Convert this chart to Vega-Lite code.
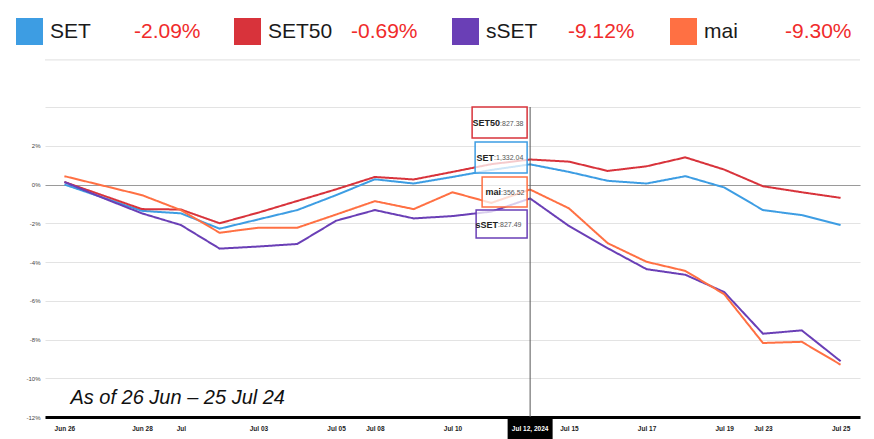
{
  "$schema": "https://vega.github.io/schema/vega-lite/v6.json",
  "width": 815,
  "height": 310,
  "autosize": {"type": "none"},
  "padding": {"left": 45, "top": 107, "right": 14, "bottom": 22},
  "background": "white",
  "config": {"view": {"stroke": null}, "font": "Liberation Sans"},
  "datasets": {
    "changes": [
      {"series": "SET", "change": "-2.09%"},
      {"series": "SET50", "change": "-0.69%"},
      {"series": "sSET", "change": "-9.12%"},
      {"series": "mai", "change": "-9.30%"}
    ],
    "series": [
      {"date": "2024-06-26", "series": "SET", "pct": 0.00},
      {"date": "2024-06-27", "series": "SET", "pct": -0.68},
      {"date": "2024-06-28", "series": "SET", "pct": -1.36},
      {"date": "2024-07-01", "series": "SET", "pct": -1.49},
      {"date": "2024-07-02", "series": "SET", "pct": -2.28},
      {"date": "2024-07-03", "series": "SET", "pct": -1.80},
      {"date": "2024-07-04", "series": "SET", "pct": -1.32},
      {"date": "2024-07-05", "series": "SET", "pct": -0.55},
      {"date": "2024-07-08", "series": "SET", "pct": 0.27},
      {"date": "2024-07-09", "series": "SET", "pct": 0.05},
      {"date": "2024-07-10", "series": "SET", "pct": 0.39},
      {"date": "2024-07-11", "series": "SET", "pct": 0.75},
      {"date": "2024-07-12", "series": "SET", "pct": 1.04},
      {"date": "2024-07-15", "series": "SET", "pct": 0.65},
      {"date": "2024-07-16", "series": "SET", "pct": 0.19},
      {"date": "2024-07-17", "series": "SET", "pct": 0.05},
      {"date": "2024-07-18", "series": "SET", "pct": 0.43},
      {"date": "2024-07-19", "series": "SET", "pct": -0.15},
      {"date": "2024-07-23", "series": "SET", "pct": -1.32},
      {"date": "2024-07-24", "series": "SET", "pct": -1.58},
      {"date": "2024-07-25", "series": "SET", "pct": -2.09},
      {"date": "2024-06-26", "series": "SET50", "pct": 0.13},
      {"date": "2024-06-27", "series": "SET50", "pct": -0.57},
      {"date": "2024-06-28", "series": "SET50", "pct": -1.27},
      {"date": "2024-07-01", "series": "SET50", "pct": -1.29},
      {"date": "2024-07-02", "series": "SET50", "pct": -2.00},
      {"date": "2024-07-03", "series": "SET50", "pct": -1.45},
      {"date": "2024-07-04", "series": "SET50", "pct": -0.85},
      {"date": "2024-07-05", "series": "SET50", "pct": -0.25},
      {"date": "2024-07-08", "series": "SET50", "pct": 0.39},
      {"date": "2024-07-09", "series": "SET50", "pct": 0.26},
      {"date": "2024-07-10", "series": "SET50", "pct": 0.65},
      {"date": "2024-07-11", "series": "SET50", "pct": 1.05},
      {"date": "2024-07-12", "series": "SET50", "pct": 1.29},
      {"date": "2024-07-15", "series": "SET50", "pct": 1.18},
      {"date": "2024-07-16", "series": "SET50", "pct": 0.70},
      {"date": "2024-07-17", "series": "SET50", "pct": 0.94},
      {"date": "2024-07-18", "series": "SET50", "pct": 1.40},
      {"date": "2024-07-19", "series": "SET50", "pct": 0.77},
      {"date": "2024-07-23", "series": "SET50", "pct": -0.09},
      {"date": "2024-07-24", "series": "SET50", "pct": -0.40},
      {"date": "2024-07-25", "series": "SET50", "pct": -0.69},
      {"date": "2024-06-26", "series": "sSET", "pct": 0.13},
      {"date": "2024-06-27", "series": "sSET", "pct": -0.70},
      {"date": "2024-06-28", "series": "sSET", "pct": -1.49},
      {"date": "2024-07-01", "series": "sSET", "pct": -2.09},
      {"date": "2024-07-02", "series": "sSET", "pct": -3.31},
      {"date": "2024-07-03", "series": "sSET", "pct": -3.20},
      {"date": "2024-07-04", "series": "sSET", "pct": -3.07},
      {"date": "2024-07-05", "series": "sSET", "pct": -1.87},
      {"date": "2024-07-08", "series": "sSET", "pct": -1.32},
      {"date": "2024-07-09", "series": "sSET", "pct": -1.75},
      {"date": "2024-07-10", "series": "sSET", "pct": -1.63},
      {"date": "2024-07-11", "series": "sSET", "pct": -1.40},
      {"date": "2024-07-12", "series": "sSET", "pct": -0.72},
      {"date": "2024-07-15", "series": "sSET", "pct": -2.14},
      {"date": "2024-07-16", "series": "sSET", "pct": -3.29},
      {"date": "2024-07-17", "series": "sSET", "pct": -4.37},
      {"date": "2024-07-18", "series": "sSET", "pct": -4.66},
      {"date": "2024-07-19", "series": "sSET", "pct": -5.55},
      {"date": "2024-07-23", "series": "sSET", "pct": -7.70},
      {"date": "2024-07-24", "series": "sSET", "pct": -7.53},
      {"date": "2024-07-25", "series": "sSET", "pct": -9.12},
      {"date": "2024-06-26", "series": "mai", "pct": 0.43},
      {"date": "2024-06-27", "series": "mai", "pct": -0.06},
      {"date": "2024-06-28", "series": "mai", "pct": -0.55},
      {"date": "2024-07-01", "series": "mai", "pct": -1.32},
      {"date": "2024-07-02", "series": "mai", "pct": -2.49},
      {"date": "2024-07-03", "series": "mai", "pct": -2.23},
      {"date": "2024-07-04", "series": "mai", "pct": -2.23},
      {"date": "2024-07-05", "series": "mai", "pct": -1.55},
      {"date": "2024-07-08", "series": "mai", "pct": -0.86},
      {"date": "2024-07-09", "series": "mai", "pct": -1.27},
      {"date": "2024-07-10", "series": "mai", "pct": -0.40},
      {"date": "2024-07-11", "series": "mai", "pct": -0.95},
      {"date": "2024-07-12", "series": "mai", "pct": -0.26},
      {"date": "2024-07-15", "series": "mai", "pct": -1.23},
      {"date": "2024-07-16", "series": "mai", "pct": -3.03},
      {"date": "2024-07-17", "series": "mai", "pct": -3.99},
      {"date": "2024-07-18", "series": "mai", "pct": -4.46},
      {"date": "2024-07-19", "series": "mai", "pct": -5.66},
      {"date": "2024-07-23", "series": "mai", "pct": -8.18},
      {"date": "2024-07-24", "series": "mai", "pct": -8.12},
      {"date": "2024-07-25", "series": "mai", "pct": -9.30}
    ]
  },
  "layer": [
    {
      "data": {"name": "series"},
      "transform": [
        {"lookup": "series", "from": {"data": {"name": "changes"}, "key": "series", "fields": ["change"]}}
      ],
      "mark": {"type": "line", "strokeWidth": 2},
      "encoding": {
        "x": {
          "field": "date", "type": "ordinal",
          "scale": {"type": "point", "padding": 0.5},
          "axis": {
            "title": null, "labelAngle": 0, "grid": false,
            "labelExpr": "indexof(['2024-06-27','2024-07-02','2024-07-04','2024-07-09','2024-07-11','2024-07-12','2024-07-16','2024-07-18','2024-07-24'], datum.value) >= 0 ? '' : (datum.value == '2024-07-01' ? 'Jul' : utcFormat(toDate(datum.value), '%b %d'))",
            "domainColor": "#000", "domainWidth": 3, "ticks": false, "tickSize": 0,
            "labelPadding": 8, "labelFontSize": 6.5, "labelFont": "Liberation Sans Narrow, Liberation Sans",
            "labelFontWeight": "bold", "labelColor": "#222"
          }
        },
        "y": {
          "field": "pct", "type": "quantitative",
          "scale": {"domain": [-12, 4], "nice": false},
          "axis": {
            "title": null, "values": [-12, -10, -8, -6, -4, -2, 0, 2, 4], "tickCount": 12,
            "labelOverlap": false,
            "labelExpr": "datum.value == 4 ? '' : datum.value + '%'",
            "domain": false, "ticks": false, "tickSize": 0, "labelPadding": 5,
            "labelFontSize": 6, "labelFont": "Liberation Sans Narrow, Liberation Sans", "labelColor": "#444",
            "gridColor": {"condition": {"test": "datum.value === 0", "value": "#9a9a9a"}, "value": "#e3e3e3"},
            "gridWidth": 1.2
          }
        },
        "color": {
          "field": "series", "type": "nominal",
          "scale": {"domain": ["SET", "SET50", "sSET", "mai"], "range": ["#3d9de3", "#d8333b", "#6a3fb6", "#ff7043"]},
          "legend": {
            "orient": "none", "legendX": -29, "legendY": -89, "direction": "horizontal", "title": null,
            "symbolType": "square", "symbolSize": 729, "symbolStrokeWidth": 0,
            "labelFontSize": 21, "labelFont": "Liberation Sans", "labelColor": "#1a1a1a", "labelOffset": 7,
            "gridAlign": "all", "columnPadding": 119, "labelLimit": 300,
            "encode": {"symbols": {"update": {"fill": {"scale": "color", "field": "value"}, "fillOpacity": {"value": 1}}}}
          }
        },
        "strokeDash": {
          "field": "change", "type": "nominal",
          "scale": {"domain": ["-2.09%", "-0.69%", "-9.12%", "-9.30%"], "range": [[1, 0], [1, 0], [1, 0], [1, 0]]},
          "legend": {
            "orient": "none", "legendX": 62, "legendY": -89, "direction": "horizontal", "title": null,
            "symbolSize": 729, "symbolOpacity": 0, "symbolStrokeWidth": 0, "labelOffset": 0,
            "labelFontSize": 21, "labelFont": "Liberation Sans", "labelColor": "#f02b2b",
            "gridAlign": "all", "columnPadding": 123, "labelLimit": 300
          }
        }
      }
    },
    {
      "data": {"values": [{}]},
      "mark": {"type": "rule", "color": "#e6e6e6", "strokeWidth": 1.2},
      "encoding": {"y": {"datum": 6.43}}
    },
    {
      "data": {"values": [{}]},
      "mark": {"type": "rule", "color": "#555", "strokeWidth": 1},
      "encoding": {"x": {"datum": "2024-07-12", "type": "ordinal"}}
    },
    {
      "data": {"values": [{"name": "SET50", "val": ":827.38"}]},
      "layer": [
        {"mark": {"type": "bar", "width": 55, "xOffset": -30.5, "fill": "white", "fillOpacity": 0.75, "stroke": "#d8333b", "strokeWidth": 1.5},
         "encoding": {"x": {"datum": "2024-07-12", "type": "ordinal"}, "y": {"datum": 4.0}, "y2": {"datum": 2.4}}},
        {"mark": {"type": "text", "align": "right", "dx": -30, "fontSize": 9, "fontWeight": "bold", "font": "Liberation Sans Narrow, Liberation Sans", "color": "#222"},
         "encoding": {"x": {"datum": "2024-07-12", "type": "ordinal"}, "y": {"datum": 3.17}, "text": {"field": "name"}}},
        {"mark": {"type": "text", "align": "left", "dx": -30, "dy": 0.5, "fontSize": 7, "color": "#555"},
         "encoding": {"x": {"datum": "2024-07-12", "type": "ordinal"}, "y": {"datum": 3.17}, "text": {"field": "val"}}}
      ]
    },
    {
      "data": {"values": [{"name": "SET", "val": ":1,332.04"}]},
      "layer": [
        {"mark": {"type": "bar", "width": 52, "xOffset": -29, "fill": "white", "fillOpacity": 0.75, "stroke": "#3d9de3", "strokeWidth": 1.5},
         "encoding": {"x": {"datum": "2024-07-12", "type": "ordinal"}, "y": {"datum": 2.19}, "y2": {"datum": 0.59}}},
        {"mark": {"type": "text", "align": "right", "dx": -36, "fontSize": 9, "fontWeight": "bold", "font": "Liberation Sans Narrow, Liberation Sans", "color": "#222"},
         "encoding": {"x": {"datum": "2024-07-12", "type": "ordinal"}, "y": {"datum": 1.37}, "text": {"field": "name"}}},
        {"mark": {"type": "text", "align": "left", "dx": -36, "dy": 0.5, "fontSize": 7, "color": "#555"},
         "encoding": {"x": {"datum": "2024-07-12", "type": "ordinal"}, "y": {"datum": 1.37}, "text": {"field": "val"}}}
      ]
    },
    {
      "data": {"values": [{"name": "mai", "val": ":356.52"}]},
      "layer": [
        {"mark": {"type": "bar", "width": 45, "xOffset": -25.5, "fill": "white", "fillOpacity": 0.75, "stroke": "#ff7043", "strokeWidth": 1.5},
         "encoding": {"x": {"datum": "2024-07-12", "type": "ordinal"}, "y": {"datum": 0.39}, "y2": {"datum": -1.16}}},
        {"mark": {"type": "text", "align": "right", "dx": -29, "fontSize": 9, "fontWeight": "bold", "font": "Liberation Sans Narrow, Liberation Sans", "color": "#222"},
         "encoding": {"x": {"datum": "2024-07-12", "type": "ordinal"}, "y": {"datum": -0.39}, "text": {"field": "name"}}},
        {"mark": {"type": "text", "align": "left", "dx": -29, "dy": 0.5, "fontSize": 7, "color": "#555"},
         "encoding": {"x": {"datum": "2024-07-12", "type": "ordinal"}, "y": {"datum": -0.39}, "text": {"field": "val"}}}
      ]
    },
    {
      "data": {"values": [{"name": "sSET", "val": ":827.49"}]},
      "layer": [
        {"mark": {"type": "bar", "width": 51, "xOffset": -28.5, "fill": "white", "fillOpacity": 0.75, "stroke": "#6a3fb6", "strokeWidth": 1.5},
         "encoding": {"x": {"datum": "2024-07-12", "type": "ordinal"}, "y": {"datum": -1.32}, "y2": {"datum": -2.76}}},
        {"mark": {"type": "text", "align": "right", "dx": -32, "fontSize": 9, "fontWeight": "bold", "font": "Liberation Sans Narrow, Liberation Sans", "color": "#222"},
         "encoding": {"x": {"datum": "2024-07-12", "type": "ordinal"}, "y": {"datum": -2.09}, "text": {"field": "name"}}},
        {"mark": {"type": "text", "align": "left", "dx": -32, "dy": 0.5, "fontSize": 7, "color": "#555"},
         "encoding": {"x": {"datum": "2024-07-12", "type": "ordinal"}, "y": {"datum": -2.09}, "text": {"field": "val"}}}
      ]
    },
    {
      "data": {"values": [{"label": "Jul 12, 2024"}]},
      "layer": [
        {"mark": {"type": "bar", "width": 45, "color": "#000"},
         "encoding": {"x": {"datum": "2024-07-12", "type": "ordinal"}, "y": {"datum": -12.0}, "y2": {"datum": -13.3}}},
        {"mark": {"type": "text", "fontSize": 6.5, "fontWeight": "bold", "font": "Liberation Sans Narrow, Liberation Sans", "color": "white", "baseline": "middle"},
         "encoding": {"x": {"datum": "2024-07-12", "type": "ordinal"}, "y": {"datum": -12.6}, "text": {"field": "label"}}}
      ]
    },
    {
      "data": {"values": [{"note": "As of 26 Jun – 25 Jul 24"}]},
      "mark": {"type": "text", "align": "left", "baseline": "alphabetic", "dx": 6, "fontSize": 20, "fontStyle": "italic", "color": "#111"},
      "encoding": {"x": {"datum": "2024-06-26", "type": "ordinal"}, "y": {"datum": -11.33}, "text": {"field": "note"}}
    }
  ]
}
